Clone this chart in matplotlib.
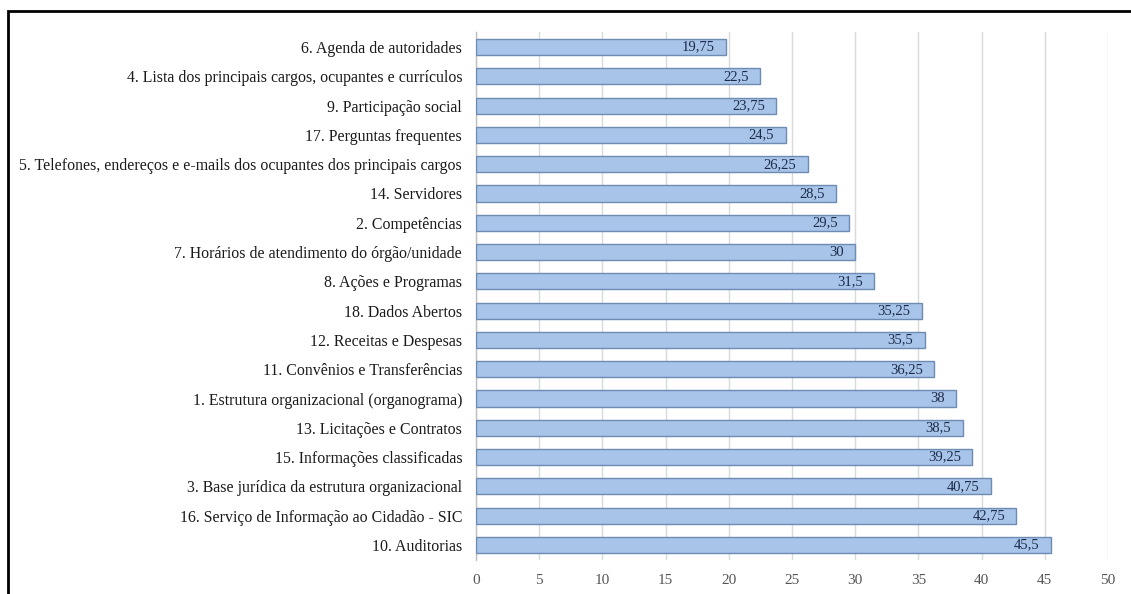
import matplotlib
matplotlib.use("Agg")
import matplotlib.pyplot as plt
from matplotlib.patches import Rectangle

categories = [
    "6. Agenda de autoridades",
    "4. Lista dos principais cargos, ocupantes e currículos",
    "9. Participação social",
    "17. Perguntas frequentes",
    "5. Telefones, endereços e e-mails dos ocupantes dos principais cargos",
    "14. Servidores",
    "2. Competências",
    "7. Horários de atendimento do órgão/unidade",
    "8. Ações e Programas",
    "18. Dados Abertos",
    "12. Receitas e Despesas",
    "11. Convênios e Transferências",
    "1. Estrutura organizacional (organograma)",
    "13. Licitações e Contratos",
    "15. Informações classificadas",
    "3. Base jurídica da estrutura organizacional",
    "16. Serviço de Informação ao Cidadão - SIC",
    "10. Auditorias",
]
values = [19.75, 22.5, 23.75, 24.5, 26.25, 28.5, 29.5, 30, 31.5, 35.25,
          35.5, 36.25, 38, 38.5, 39.25, 40.75, 42.75, 45.5]
x_ticks = [0, 5, 10, 15, 20, 25, 30, 35, 40, 45, 50]

plt.rcParams["font.family"] = ["Liberation Serif", "DejaVu Serif"]

fig = plt.figure(figsize=(11.31, 5.94), dpi=100)
ax = fig.add_axes([0.4209, 0.0578, 0.5588, 0.8877])

# first category at the top
ypos = list(range(len(categories)))[::-1]
ax.barh(ypos, values, height=0.55, color="#a8c4e8",
        edgecolor="#6d8bb3", linewidth=1.0, zorder=3)

for y, v in zip(ypos, values):
    txt = f"{v:g}".replace(".", ",")
    ax.text(v - 0.9, y, txt, ha="right", va="center", fontsize=10.5,
            color="#1c2b4a", zorder=4)

ax.set_yticks(ypos)
ax.set_yticklabels(categories, fontsize=11.4, color="#1a1a1a")
ax.set_xticks(x_ticks)
ax.set_xticklabels([str(t) for t in x_ticks], fontsize=11, color="#555555")
ax.set_xlim(0, 50)
ax.set_ylim(-0.5, len(categories) - 0.5)

ax.grid(axis="x", color="#d9d9d9", linewidth=1.0, zorder=0)
ax.tick_params(axis="both", length=0)
ax.tick_params(axis="y", pad=10)
ax.tick_params(axis="x", pad=10)
for side in ("top", "right", "bottom"):
    ax.spines[side].set_visible(False)
ax.spines["left"].set_color("#bfbfbf")
ax.spines["left"].set_linewidth(1.0)

# black frame around the chart area
fig.patches.append(Rectangle((8 / 1131, -0.05), 1.2, 1 - 11 / 594 + 0.05,
                             transform=fig.transFigure, fill=False,
                             edgecolor="black", linewidth=2.0))

fig.savefig("out.png", dpi=100, facecolor="white")
